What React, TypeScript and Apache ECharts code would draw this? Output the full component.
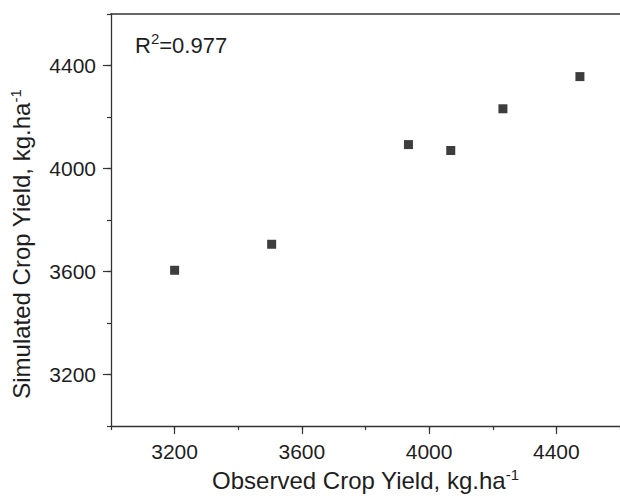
import React, { useEffect, useRef } from "react";
import * as echarts from "echarts";

const observed = [3200, 3505, 3935, 4068, 4232, 4474];
const simulated = [3605, 3706, 4093, 4070, 4232, 4357];
const majorTicks = [3200, 3600, 4000, 4400];
const axisMin = 3000;
const axisMax = 4600;
const minorStep = 200;
const r2Label = "0.977";
const xName = "Observed Crop Yield, kg.ha";
const yName = "Simulated Crop Yield, kg.ha";

const FONT = "'Liberation Sans', Arial, Helvetica, sans-serif";
const LINE = "#333333";
const TEXT = "#1e1e1e";

export default function App() {
  const ref = useRef<HTMLDivElement>(null);
  useEffect(() => {
    if (!ref.current) return;
    const chart = echarts.init(ref.current, undefined, { renderer: "svg" });
    const nameRich = {
      sup: { fontSize: 15, verticalAlign: "top", lineHeight: 12, color: TEXT, fontFamily: FONT },
    };
    const baseAxis = (extra: any) => ({
      type: "value",
      min: axisMin,
      max: axisMax,
      interval: minorStep,
      splitLine: { show: false },
      ...extra,
    });
    chart.setOption({
      animation: false,
      grid: { left: 111, right: -2, top: 14, bottom: 69, containLabel: false },
      textStyle: { fontFamily: FONT },
      xAxis: [
        baseAxis({
          position: "bottom",
          axisLine: { show: true, lineStyle: { color: LINE, width: 1.3 } },
          axisTick: { show: true, length: 4, lineStyle: { color: LINE, width: 1.2 } },
          axisLabel: {
            show: true,
            fontSize: 21,
            color: TEXT,
            margin: 15,
            fontFamily: FONT,
            customValues: majorTicks,
            formatter: (v: number) => (majorTicks.includes(v) ? String(v) : ""),
          },
          name: xName + "{sup|-1}",
          nameLocation: "middle",
          nameGap: 39,
          nameTextStyle: {
            fontSize: 24,
            color: TEXT,
            fontFamily: FONT,
            lineHeight: 27,
            rich: nameRich,
          },
        }),
        baseAxis({
          position: "bottom",
          axisLine: { show: false },
          axisTick: {
            show: true,
            length: 8,
            customValues: majorTicks,
            lineStyle: { color: LINE, width: 1.2 },
          },
          axisLabel: { show: false },
        }),
        baseAxis({
          position: "top",
          axisLine: { show: true, lineStyle: { color: LINE, width: 1.5 } },
          axisTick: { show: false },
          axisLabel: { show: false },
        }),
      ],
      yAxis: [
        baseAxis({
          position: "left",
          axisLine: { show: true, lineStyle: { color: LINE, width: 1.3 } },
          axisTick: { show: true, length: 4, lineStyle: { color: LINE, width: 1.2 } },
          axisLabel: {
            show: true,
            fontSize: 21,
            color: TEXT,
            margin: 15,
            fontFamily: FONT,
            customValues: majorTicks,
            formatter: (v: number) => (majorTicks.includes(v) ? String(v) : ""),
          },
          name: yName + "{sup|-1}",
          nameLocation: "middle",
          nameRotate: 90,
          nameGap: 76,
          nameTextStyle: {
            fontSize: 24,
            color: TEXT,
            fontFamily: FONT,
            lineHeight: 27,
            padding: [0, 48, 0, 0],
            rich: nameRich,
          },
        }),
        baseAxis({
          position: "left",
          axisLine: { show: false },
          axisTick: {
            show: true,
            length: 8,
            customValues: majorTicks,
            lineStyle: { color: LINE, width: 1.2 },
          },
          axisLabel: { show: false },
        }),
      ],
      graphic: [
        {
          type: "text",
          left: 135,
          top: 31,
          style: {
            text: "R{sup|2}=" + r2Label,
            fontSize: 22,
            fill: TEXT,
            fontFamily: FONT,
            lineHeight: 28,
            rich: {
              sup: { fontSize: 15, verticalAlign: "top", lineHeight: 12, fill: TEXT, fontFamily: FONT },
            },
          },
        },
      ],
      series: [
        {
          type: "scatter",
          xAxisIndex: 0,
          yAxisIndex: 0,
          symbol: "rect",
          symbolSize: 9,
          itemStyle: { color: "#0d0d0d" },
          data: observed.map((x, i) => [x, simulated[i]]),
        },
      ],
    });
    return () => chart.dispose();
  }, []);
  return (
    <div
      ref={ref}
      style={{ position: "fixed", left: 0, top: 0, width: 620, height: 499, background: "#ffffff" }}
    />
  );
}
